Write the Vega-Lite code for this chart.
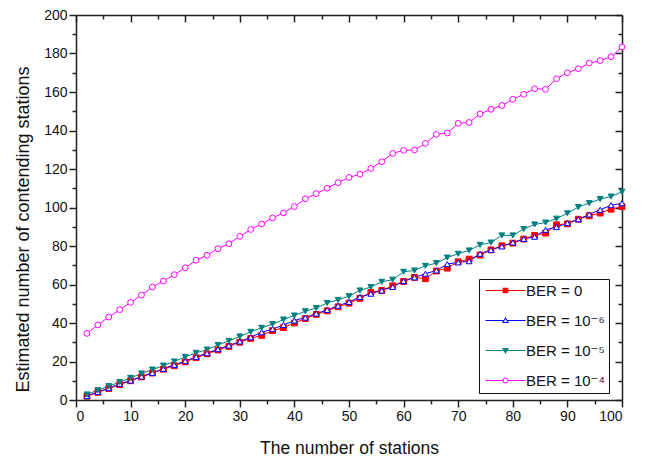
{
  "$schema": "https://vega.github.io/schema/vega-lite/v6.json",
  "width": 546,
  "height": 385,
  "autosize": {"type": "none"},
  "padding": {"left": 76, "top": 15, "right": 24, "bottom": 58},
  "background": "white",
  "config": {
    "view": {"stroke": null},
    "font": "Liberation Sans",
    "axis": {
      "grid": false,
      "domainColor": "#222222",
      "domainWidth": 1.5,
      "tickColor": "#222222",
      "tickWidth": 1.5,
      "labelColor": "#111111",
      "labelFont": "Liberation Sans",
      "labelFontSize": 14,
      "labelOverlap": false,
      "labelPadding": 2,
      "titleColor": "#111111",
      "titleFont": "Liberation Sans",
      "titleFontWeight": "normal"
    }
  },
  "data": {
    "values": [
      {"n": 2, "b0": 2.0, "b6": 2.0, "b5": 2.9, "b4": 34.6},
      {"n": 4, "b0": 4.0, "b6": 4.2, "b5": 5.1, "b4": 39.0},
      {"n": 6, "b0": 6.0, "b6": 6.1, "b5": 7.2, "b4": 43.1},
      {"n": 8, "b0": 8.0, "b6": 8.4, "b5": 9.3, "b4": 46.9},
      {"n": 10, "b0": 10.0, "b6": 10.1, "b5": 11.5, "b4": 50.7},
      {"n": 12, "b0": 12.0, "b6": 12.2, "b5": 13.8, "b4": 54.5},
      {"n": 14, "b0": 14.0, "b6": 14.1, "b5": 15.8, "b4": 58.7},
      {"n": 16, "b0": 16.0, "b6": 16.2, "b5": 17.9, "b4": 61.8},
      {"n": 18, "b0": 17.8, "b6": 18.3, "b5": 20.0, "b4": 65.1},
      {"n": 20, "b0": 19.8, "b6": 20.2, "b5": 22.4, "b4": 68.7},
      {"n": 22, "b0": 22.0, "b6": 22.4, "b5": 24.5, "b4": 72.6},
      {"n": 24, "b0": 24.0, "b6": 24.3, "b5": 26.2, "b4": 75.2},
      {"n": 26, "b0": 26.0, "b6": 26.4, "b5": 28.6, "b4": 78.6},
      {"n": 28, "b0": 27.8, "b6": 28.3, "b5": 30.7, "b4": 81.2},
      {"n": 30, "b0": 30.0, "b6": 30.4, "b5": 33.0, "b4": 85.0},
      {"n": 32, "b0": 32.0, "b6": 32.6, "b5": 35.4, "b4": 88.6},
      {"n": 34, "b0": 33.6, "b6": 35.2, "b5": 37.5, "b4": 91.4},
      {"n": 36, "b0": 36.0, "b6": 36.8, "b5": 39.4, "b4": 94.6},
      {"n": 38, "b0": 37.6, "b6": 39.0, "b5": 41.8, "b4": 97.2},
      {"n": 40, "b0": 40.0, "b6": 41.3, "b5": 43.9, "b4": 100.5},
      {"n": 42, "b0": 42.3, "b6": 42.8, "b5": 46.1, "b4": 104.5},
      {"n": 44, "b0": 44.5, "b6": 44.9, "b5": 47.8, "b4": 107.2},
      {"n": 46, "b0": 46.3, "b6": 46.8, "b5": 50.4, "b4": 110.0},
      {"n": 48, "b0": 48.4, "b6": 49.0, "b5": 52.0, "b4": 112.9},
      {"n": 50, "b0": 50.3, "b6": 50.9, "b5": 53.9, "b4": 115.6},
      {"n": 52, "b0": 52.8, "b6": 53.5, "b5": 56.9, "b4": 117.3},
      {"n": 54, "b0": 55.9, "b6": 55.2, "b5": 58.7, "b4": 120.3},
      {"n": 56, "b0": 56.9, "b6": 56.9, "b5": 61.4, "b4": 123.8},
      {"n": 58, "b0": 59.3, "b6": 58.7, "b5": 62.5, "b4": 128.1},
      {"n": 60, "b0": 61.6, "b6": 61.8, "b5": 66.6, "b4": 129.7},
      {"n": 62, "b0": 63.7, "b6": 63.7, "b5": 67.3, "b4": 129.9},
      {"n": 64, "b0": 63.0, "b6": 65.6, "b5": 69.7, "b4": 133.3},
      {"n": 66, "b0": 67.0, "b6": 67.3, "b5": 71.1, "b4": 138.0},
      {"n": 68, "b0": 68.5, "b6": 70.6, "b5": 74.0, "b4": 138.7},
      {"n": 70, "b0": 71.8, "b6": 71.5, "b5": 76.0, "b4": 143.7},
      {"n": 72, "b0": 73.2, "b6": 72.1, "b5": 77.7, "b4": 144.2},
      {"n": 74, "b0": 75.3, "b6": 76.0, "b5": 80.6, "b4": 148.6},
      {"n": 76, "b0": 78.0, "b6": 78.0, "b5": 81.8, "b4": 151.0},
      {"n": 78, "b0": 80.1, "b6": 79.8, "b5": 85.5, "b4": 153.0},
      {"n": 80, "b0": 81.5, "b6": 81.8, "b5": 85.5, "b4": 156.2},
      {"n": 82, "b0": 83.6, "b6": 83.7, "b5": 88.8, "b4": 158.8},
      {"n": 84, "b0": 85.5, "b6": 84.8, "b5": 91.2, "b4": 161.7},
      {"n": 86, "b0": 86.7, "b6": 88.4, "b5": 92.2, "b4": 161.4},
      {"n": 88, "b0": 91.0, "b6": 89.8, "b5": 94.2, "b4": 166.9},
      {"n": 90, "b0": 91.5, "b6": 91.9, "b5": 97.0, "b4": 170.0},
      {"n": 92, "b0": 93.9, "b6": 93.9, "b5": 100.2, "b4": 172.1},
      {"n": 94, "b0": 95.7, "b6": 96.4, "b5": 102.3, "b4": 175.0},
      {"n": 96, "b0": 97.1, "b6": 98.8, "b5": 104.4, "b4": 176.3},
      {"n": 98, "b0": 99.1, "b6": 101.2, "b5": 105.7, "b4": 178.3},
      {"n": 100, "b0": 100.5, "b6": 102.2, "b5": 108.2, "b4": 183.4}
    ]
  },
  "transform": [{"fold": ["b0", "b6", "b5", "b4"], "as": ["series", "y"]}],
  "layer": [
    {
      "mark": {"type": "line", "strokeWidth": 1},
      "encoding": {
        "x": {
          "field": "n", "type": "quantitative",
          "scale": {"domain": [0, 100], "nice": false, "zero": false},
          "axis": {
            "orient": "bottom",
            "values": [0, 5, 10, 15, 20, 25, 30, 35, 40, 45, 50, 55, 60, 65, 70, 75, 80, 85, 90, 95, 100],
            "labelExpr": "datum.value % 10 === 0 ? datum.label : ''",
            "tickSize": {"condition": {"test": "datum.value % 10 === 0", "value": 7}, "value": 4},
            "title": "The number of stations",
            "titleFontSize": 17.5,
            "titlePadding": 16
          }
        },
        "y": {
          "field": "y", "type": "quantitative",
          "scale": {"domain": [0, 200], "nice": false},
          "axis": {
            "orient": "left",
            "values": [0, 10, 20, 30, 40, 50, 60, 70, 80, 90, 100, 110, 120, 130, 140, 150, 160, 170, 180, 190, 200],
            "labelExpr": "datum.value % 20 === 0 ? datum.label : ''",
            "tickSize": {"condition": {"test": "datum.value % 20 === 0", "value": 7}, "value": 4},
            "title": "Estimated number of contending stations",
            "titleFontSize": 18,
            "titlePadding": 11,
            "titleY": 214
          }
        },
        "color": {
          "field": "series", "type": "nominal",
          "scale": {"domain": ["b0", "b6", "b5", "b4"], "range": ["#ff0000", "#0000ff", "#008080", "#ff00ff"]},
          "legend": null
        },
        "detail": {"field": "series"}
      }
    },
    {
      "mark": {"type": "point", "opacity": 1, "strokeWidth": 1, "size": 34},
      "encoding": {
        "x": {
          "field": "n", "type": "quantitative",
          "scale": {"domain": [0, 100], "nice": false, "zero": false},
          "axis": {
            "orient": "top",
            "values": [0, 5, 10, 15, 20, 25, 30, 35, 40, 45, 50, 55, 60, 65, 70, 75, 80, 85, 90, 95, 100],
            "labels": false,
            "tickSize": {"condition": {"test": "datum.value % 10 === 0", "value": -7}, "value": -4},
            "title": null
          }
        },
        "y": {
          "field": "y", "type": "quantitative",
          "scale": {"domain": [0, 200], "nice": false},
          "axis": {
            "orient": "right",
            "values": [0, 10, 20, 30, 40, 50, 60, 70, 80, 90, 100, 110, 120, 130, 140, 150, 160, 170, 180, 190, 200],
            "labels": false,
            "tickSize": {"condition": {"test": "datum.value % 20 === 0", "value": -7}, "value": -4},
            "title": null
          }
        },
        "stroke": {
          "field": "series", "type": "nominal",
          "scale": {"domain": ["b0", "b6", "b5", "b4"], "range": ["#ff0000", "#0000ff", "#008080", "#ff00ff"]},
          "legend": null
        },
        "fill": {
          "field": "series", "type": "nominal",
          "scale": {"domain": ["b0", "b6", "b5", "b4"], "range": ["#ff0000", "#ffffff", "#008080", "#ffffff"]},
          "legend": null
        },
        "shape": {
          "field": "series", "type": "nominal",
          "scale": {"domain": ["b0", "b6", "b5", "b4"], "range": ["square", "triangle-up", "triangle-down", "circle"]},
          "legend": null
        }
      }
    },
    {
      "transform": [{"filter": "datum.n < 0"}],
      "mark": {"type": "point", "filled": true, "opacity": 1, "size": 100, "strokeWidth": 0},
      "encoding": {
        "color": {
          "field": "series", "type": "nominal",
          "scale": {"domain": ["b0", "b6", "b5", "b4"], "range": ["#ff0000", "#0000ff", "#008080", "#ff00ff"]},
          "legend": {
            "title": null, "orient": "none", "legendX": 403, "legendY": 264,
            "padding": 4, "strokeColor": "#111111", "fillColor": "#ffffff", "cornerRadius": 0,
            "symbolSize": 100, "symbolStrokeWidth": 0, "labelOffset": 28, "rowPadding": 14,
            "labelFont": "Liberation Sans, DejaVu Sans", "labelFontSize": 15, "labelColor": "#111111",
            "labelExpr": "{'b0': 'BER = 0', 'b6': 'BER = 10⁻⁶', 'b5': 'BER = 10⁻⁵', 'b4': 'BER = 10⁻⁴'}[datum.value]"
          }
        },
        "shape": {
          "field": "series", "type": "nominal",
          "scale": {
            "domain": ["b0", "b6", "b5", "b4"],
            "range": [
              "M-1,-0.1H7V0.1H-1ZM2.44,-0.56H3.56V0.56H2.44Z",
              "M-1,-0.1H2.6V0.1H-1ZM3.4,-0.1H7V0.1H3.4ZM3,-0.7L3.7,0.5L2.3,0.5ZM3,-0.3L2.65,0.3L3.35,0.3Z",
              "M-1,-0.1H7V0.1H-1ZM2.3,-0.5H3.7L3,0.7Z",
              "M-1,-0.1H2.4V0.1H-1ZM3.6,-0.1H7V0.1H3.6ZM3.6,0A0.6,0.6,0,1,1,2.4,0A0.6,0.6,0,1,1,3.6,0ZM3.4,0A0.4,0.4,0,1,0,2.6,0A0.4,0.4,0,1,0,3.4,0Z"
            ]
          },
          "legend": {
            "title": null, "orient": "none", "legendX": 403, "legendY": 264,
            "padding": 4, "strokeColor": "#111111", "fillColor": "#ffffff", "cornerRadius": 0,
            "symbolSize": 100, "symbolStrokeWidth": 0, "labelOffset": 28, "rowPadding": 14,
            "labelFont": "Liberation Sans, DejaVu Sans", "labelFontSize": 15, "labelColor": "#111111",
            "labelExpr": "{'b0': 'BER = 0', 'b6': 'BER = 10⁻⁶', 'b5': 'BER = 10⁻⁵', 'b4': 'BER = 10⁻⁴'}[datum.value]"
          }
        }
      }
    }
  ],
  "resolve": {
    "scale": {"color": "independent", "shape": "independent", "fill": "independent", "stroke": "independent"},
    "axis": {"x": "independent", "y": "independent"}
  }
}
